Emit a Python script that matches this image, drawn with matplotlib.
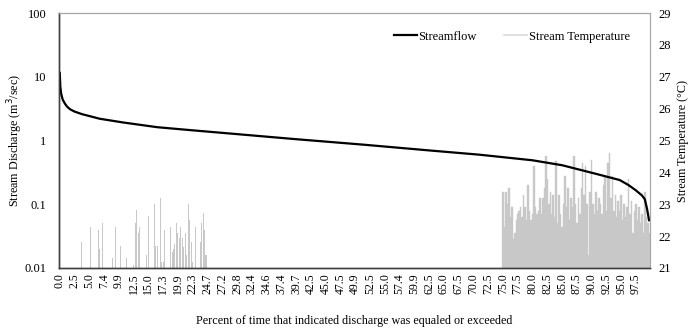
import matplotlib
matplotlib.use("Agg")
import matplotlib.pyplot as plt
from matplotlib.ticker import FixedLocator, FixedFormatter, NullLocator
from matplotlib.lines import Line2D
import numpy as np

plt.rcParams['font.family'] = ['Liberation Serif', 'DejaVu Serif']

# ---------------- data ----------------
n_categories = 400
tick_labels = ["0.0", "2.5", "5.0", "7.4", "9.9", "12.5", "15.0", "17.3", "19.9", "22.3",
               "24.7", "27.2", "29.8", "32.4", "34.6", "37.4", "39.7", "42.5", "45.0", "47.5",
               "49.9", "52.5", "55.0", "57.4", "59.9", "62.5", "65.0", "67.5", "70.0", "72.5",
               "75.0", "77.5", "80.0", "82.5", "85.0", "87.5", "90.0", "92.5", "95.0", "97.5"]

# streamflow (flow duration curve): category index and discharge (m3/sec)
flow_idx = [0, 0.4, 1, 2, 3.5, 5, 7, 10, 15, 27, 43, 66, 88, 122, 160, 206, 250, 284, 320,
            340, 363, 379, 385, 390, 394, 396, 397.5, 399]
flow_val = [12.0, 7.0, 5.4, 4.4, 3.8, 3.4, 3.1, 2.85, 2.6, 2.2, 1.92, 1.62, 1.46, 1.25, 1.05,
            0.86, 0.70, 0.60, 0.49, 0.41, 0.30, 0.24, 0.20, 0.165, 0.138, 0.12, 0.085, 0.054]

# stream temperature (deg C): sparse early section
temp_sparse_idx = [15, 21, 26, 27, 29, 36, 38, 41, 45, 50, 51, 52, 53, 54, 59, 60, 64, 65,
                   66, 68, 69, 70, 71, 75, 76, 77, 78, 79, 80, 81, 82, 83, 84, 85, 86, 87,
                   88, 89, 90, 92, 95, 96, 97, 98, 99]
temp_sparse_val = [21.81, 22.30, 22.20, 21.59, 22.41, 21.30, 22.30, 21.70, 21.30, 21.10,
                   22.41, 22.83, 22.11, 22.30, 21.41, 22.62, 23.02, 21.70, 21.70, 23.21,
                   21.20, 21.20, 22.20, 22.30, 21.51, 21.60, 21.75, 22.41, 22.10, 21.93,
                   22.30, 21.93, 21.66, 22.10, 21.40, 23.02, 22.50, 21.81, 21.20, 22.30,
                   21.80, 22.41, 22.72, 22.20, 21.41]

# stream temperature (deg C): dense late section, categories 300..399
temp_dense_start = 300
temp_dense_val = [23.4, 22.3, 23.4, 23.0, 23.5, 22.6, 22.9, 21.9, 22.1, 22.5,
                  22.7, 22.8, 22.9, 22.6, 23.3, 22.9, 22.5, 23.6, 22.8, 22.5,
                  22.7, 24.2, 22.9, 22.7, 22.8, 23.2, 22.7, 23.2, 23.5, 24.5,
                  23.8, 23.0, 23.4, 22.7, 23.3, 22.6, 24.35, 22.4, 23.3, 22.7,
                  22.3, 23.0, 23.9, 22.9, 23.5, 22.5, 23.2, 22.9, 24.5, 23.0,
                  22.4, 23.2, 22.7, 23.5, 24.3, 23.3, 24.2, 23.0, 21.4, 23.4,
                  24.4, 23.0, 22.7, 23.4, 22.8, 23.2, 23.0, 22.7, 23.6, 23.9,
                  22.8, 24.3, 24.6, 23.2, 23.9, 22.8, 23.3, 22.6, 23.1, 22.8,
                  23.3, 22.5, 23.0, 22.6, 22.9, 23.8, 22.7, 23.1, 22.1, 22.8,
                  23.0, 22.5, 22.9, 22.4, 22.7, 22.1, 23.4, 22.6, 22.4, 22.1]

# ---------------- figure ----------------
fig = plt.figure(figsize=(6.9, 3.28), dpi=100)
ax = fig.add_axes([0.0855, 0.183, 0.8565, 0.777])
ax2 = ax.twinx()

bar_color = '#c8c8c8'
temp_base = 21
ax2.bar(temp_sparse_idx, np.array(temp_sparse_val) - temp_base, bottom=temp_base,
        width=0.7, color=bar_color, linewidth=0)
dense_idx = np.arange(temp_dense_start, temp_dense_start + len(temp_dense_val))
ax2.bar(dense_idx, np.array(temp_dense_val) - temp_base, bottom=temp_base,
        width=1.0, color=bar_color, edgecolor=bar_color, linewidth=0.3)

ax2.set_ylim(21, 29)
ax2.set_yticks(range(21, 30))
ax2.tick_params(axis='y', length=0, labelsize=9, pad=6)
ax2.set_ylabel('Stream Temperature (°C)', fontsize=8.7, va='center', ha='center')
ax2.yaxis.set_label_coords(1.056, 0.5)

# streamflow line above bars
ax.set_zorder(ax2.get_zorder() + 1)
ax.patch.set_visible(False)
ax.plot(flow_idx, flow_val, color='black', linewidth=1.6, solid_capstyle='butt')
ax.set_yscale('log')
ax.set_ylim(0.01, 100)
ax.yaxis.set_major_locator(FixedLocator([0.01, 0.1, 1, 10, 100]))
ax.yaxis.set_major_formatter(FixedFormatter(['0.01', '0.1', '1', '10', '100']))
ax.yaxis.set_minor_locator(NullLocator())
ax.tick_params(axis='y', length=0, labelsize=9, pad=9)
ax.set_ylabel('Stream Discharge (m$^3$/sec)', fontsize=8.7, va='center', ha='center')
ax.yaxis.set_label_coords(-0.0745, 0.5)

ax.set_xlim(-0.5, n_categories - 0.5)
tick_pos = np.arange(0, n_categories, 10)
ax.set_xticks(tick_pos)
ax.set_xticklabels(tick_labels, rotation=90, fontsize=8.5)
ax.tick_params(axis='x', length=0, pad=4)
ax.set_xlabel('Percent of time that indicated discharge was equaled or exceeded',
              fontsize=8.7, labelpad=15)

for a in (ax, ax2):
    for s in ('top', 'right'):
        a.spines[s].set_color('#a6a6a6')
        a.spines[s].set_linewidth(0.8)
    for s in ('left', 'bottom'):
        a.spines[s].set_color('#404040')
        a.spines[s].set_linewidth(1.0)

handles = [Line2D([], [], color='black', linewidth=1.6),
           Line2D([], [], color='#d9d9d9', linewidth=1.2)]
ax.legend(handles, ['Streamflow', 'Stream Temperature'], loc='upper right',
          ncol=2, frameon=False, fontsize=9, handlelength=1.8, columnspacing=2.2,
          handletextpad=0.15, bbox_to_anchor=(0.985, 0.975))

fig.savefig('out.png', dpi=100)
